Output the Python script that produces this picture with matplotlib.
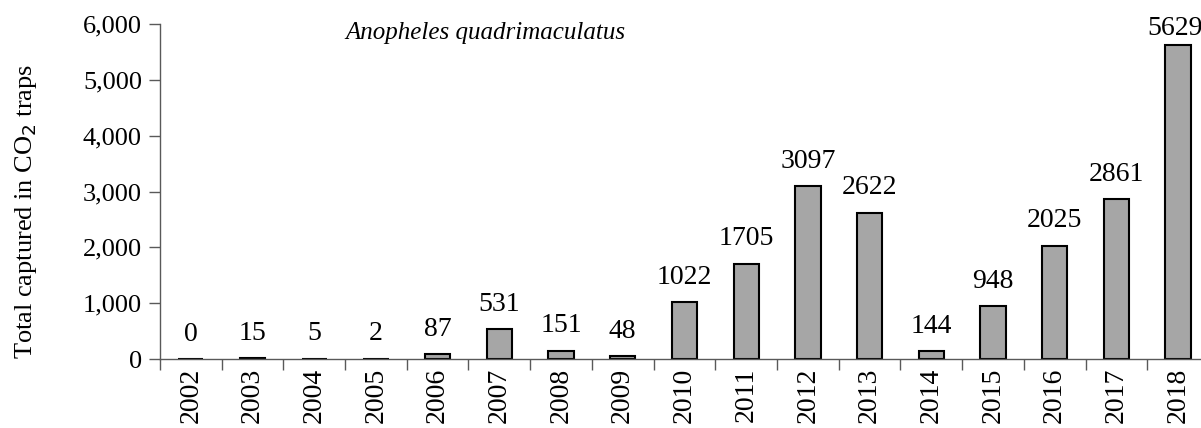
import matplotlib.pyplot as plt
from matplotlib.ticker import FuncFormatter

years = ['2002', '2003', '2004', '2005', '2006', '2007', '2008', '2009', '2010',
         '2011', '2012', '2013', '2014', '2015', '2016', '2017', '2018']
totals = [0, 15, 5, 2, 87, 531, 151, 48, 1022, 1705, 3097, 2622, 144, 948, 2025, 2861, 5629]

plt.rcParams['font.family'] = ['Liberation Serif', 'DejaVu Serif']

fig = plt.figure(figsize=(12.01, 4.28), dpi=100)
ax = fig.add_axes([0.1332, 0.161, 0.8734, 0.783])

x = list(range(len(years)))
ax.bar(x, totals, width=0.41, color='#a6a6a6', edgecolor='black', linewidth=1.5)

for xi, v in zip(x, totals):
    # the tallest label sits closer to its bar so it stays inside the figure
    off = (-2, 3) if v == max(totals) else (0, 9)
    ax.annotate(str(v), (xi, v), xytext=off, textcoords='offset points',
                ha='center', va='bottom', fontsize=20)

ax.set_xlim(-0.5, len(years) - 0.5)
ax.set_ylim(0, 6000)
ax.set_yticks(range(0, 6001, 1000))
ax.yaxis.set_major_formatter(FuncFormatter(lambda v, p: f'{int(v):,}'))
ax.set_xticks(x)
ax.set_xticklabels(years, rotation=90, fontsize=20)
ax.tick_params(axis='x', length=0, pad=6)
ax.set_xticks([i + 0.5 for i in x[:-1]] + [-0.5], minor=True)
ax.tick_params(axis='x', which='minor', length=8, width=1, color='#595959', direction='out')
ax.tick_params(axis='y', labelsize=19, length=8, width=1, color='#595959', direction='out', pad=5)

for s in ['top', 'right']:
    ax.spines[s].set_visible(False)
for s in ['left', 'bottom']:
    ax.spines[s].set_color('#595959')
    ax.spines[s].set_linewidth(1)

ax.set_ylabel('Total captured in CO$_2$ traps', fontsize=19)
ax.yaxis.set_label_coords(-0.1153, 0.44)
ax.text(0.31, 0.973, 'Anopheles quadrimaculatus', transform=ax.transAxes,
        ha='center', va='center', fontsize=18, style='italic')

fig.savefig('out.png', dpi=100)
